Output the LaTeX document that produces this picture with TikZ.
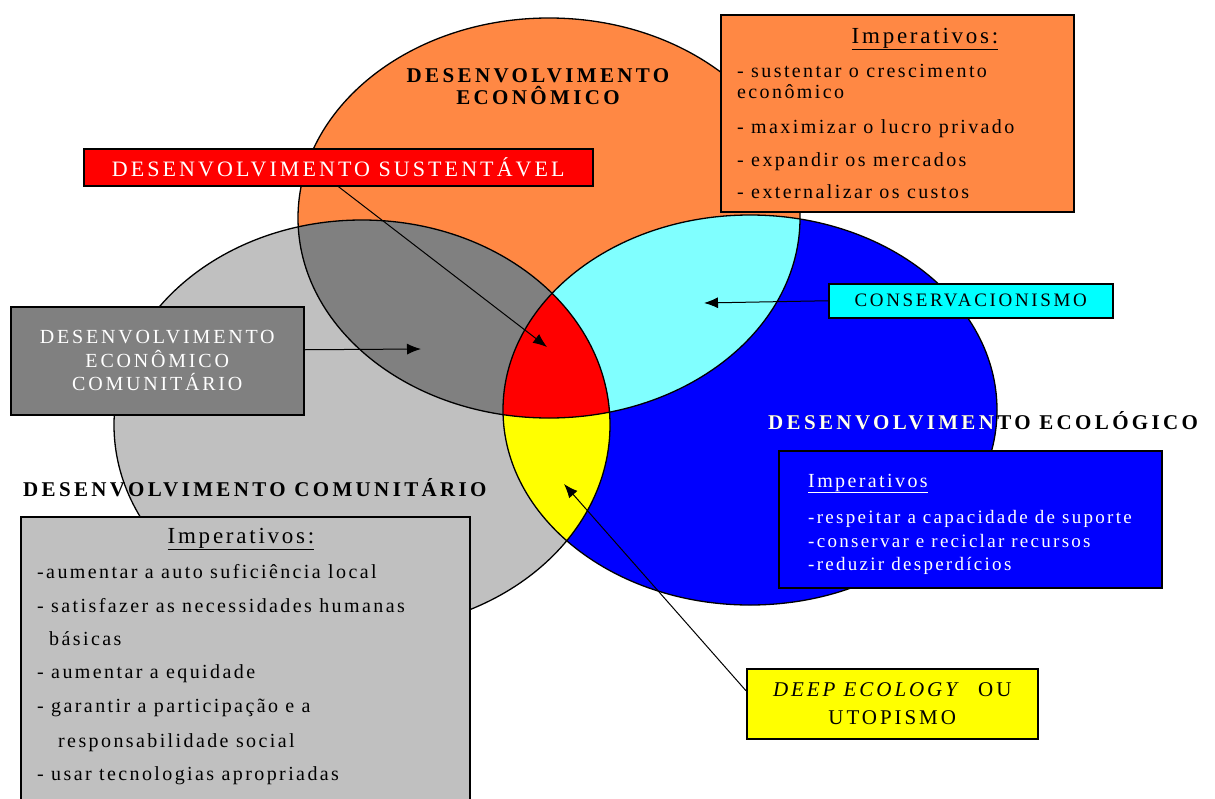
\documentclass[tikz,border=0pt]{standalone}
\usepackage{fontspec}
\setmainfont{Liberation Serif}
\newfontfamily\headfont[LetterSpace=16]{Liberation Serif}
\newfontfamily\bodyfont[LetterSpace=12]{Liberation Serif}
\newfontfamily\capsfont[LetterSpace=14]{Liberation Serif}
\usepackage{xcolor}
\usetikzlibrary{arrows.meta}

\definecolor{econ}{RGB}{255,136,68}
\definecolor{comm}{RGB}{192,192,192}
\definecolor{ecol}{RGB}{0,0,255}
\definecolor{econcomm}{RGB}{128,128,128}
\definecolor{econecol}{RGB}{128,255,255}
\definecolor{conserv}{RGB}{0,255,255}
\definecolor{sust}{RGB}{255,0,0}
\definecolor{deep}{RGB}{255,255,0}

\newcommand\pathecon{(549,218) ellipse (251 and 200)}
\newcommand\pathcomm{(362,425) ellipse (248 and 205)}
\newcommand\pathecol{(750,410) ellipse (247 and 195)}

\tikzset{
  rim/.style={line width=1.3pt},
  box/.style={draw, line width=1.5pt, anchor=north west, inner sep=0pt},
  bighead/.style={inner sep=0pt, font=\headfont\bfseries\fontsize{21}{25}\selectfont},
  boxtitle/.style={anchor=base, inner sep=0pt, font=\bodyfont\fontsize{23}{27}\selectfont},
  listline/.style={anchor=base west, inner sep=0pt, font=\bodyfont\fontsize{20}{24}\selectfont},
  pointer/.style={-{Latex[length=14pt,width=11pt]}, line width=1pt}
}

\begin{document}
\begin{tikzpicture}[x=1pt, y=-1pt]
  \useasboundingbox (0,0) rectangle (1215,798);
  \fill[econ] \pathecon;
  \fill[comm] \pathcomm;
  \fill[ecol] \pathecol;
  \begin{scope}
    \clip \pathecon;
    \fill[econcomm] \pathcomm;
    \fill[econecol] \pathecol;
  \end{scope}
  \begin{scope}
    \clip \pathcomm;
    \fill[deep] \pathecol;
    \clip \pathecon;
    \fill[sust] \pathecol;
  \end{scope}
  \draw[rim] \pathecon;
  \draw[rim] \pathcomm;
  \draw[rim] \pathecol;

  \coordinate (susttip) at (547,347);
  \coordinate (econcommtip) at (421,349);
  \coordinate (econecoltip) at (704,303);
  \coordinate (deeptip) at (564,484);

  \node[bighead, anchor=base] (econa) at (538,82) {DESENVOLVIMENTO};
  \node[bighead, anchor=base] (econb) at (538,104) {ECONÔMICO};
  \node[bighead, anchor=base west] (comma) at (23,496) {DESENVOLVIMENTO COMUNITÁRIO};
  \node[bighead, anchor=base west] (ecola) at (768,429) {DESENVOLVIMENTO ECOLÓGICO};
  \begin{scope}
    \clip \pathecol;
    \node[bighead, anchor=base west, text=white] at (768,429) {DESENVOLVIMENTO ECOLÓGICO};
  \end{scope}

  \node[box, fill=econ, minimum width=353, minimum height=197] (econbox) at (720,14) {};
  \node[boxtitle] (econtitle) at (925,43) {\underline{Imperativos:}};
  \node[listline] (econi) at (737,77) {- sustentar o crescimento};
  \node[listline] (econii) at (737,98) {econômico};
  \node[listline] (econiii) at (737,133) {- maximizar o lucro privado};
  \node[listline] (econiv) at (737,166) {- expandir os mercados};
  \node[listline] (econv) at (737,198) {- externalizar os custos};

  \node[box, fill=sust, minimum width=509, minimum height=37, text=white,
    font=\capsfont\fontsize{22}{26}\selectfont] (sustbox) at (83,148) {DESENVOLVIMENTO SUSTENTÁVEL};

  \node[box, fill=econcomm, minimum width=293, minimum height=108, text=white, align=center,
    font=\capsfont\fontsize{20}{23.5}\selectfont] (econcommbox) at (10,306) {DESENVOLVIMENTO\\ECONÔMICO\\COMUNITÁRIO};

  \node[box, fill=conserv, minimum width=284, minimum height=34,
    font=\capsfont\fontsize{19}{22}\selectfont] (conbox) at (828,283) {CONSERVACIONISMO};

  \node[box, fill=ecol, minimum width=383, minimum height=137] (ecolbox) at (778,450) {};
  \node[boxtitle, anchor=base west, text=white, font=\bodyfont\fontsize{20}{24}\selectfont] (ecoltitle) at (808,487) {\underline{Imperativos}};
  \node[listline, text=white, font=\bodyfont\fontsize{19}{22}\selectfont] (ecoli) at (808,523) {-respeitar a capacidade de suporte};
  \node[listline, text=white, font=\bodyfont\fontsize{19}{22}\selectfont] (ecolii) at (808,547) {-conservar e reciclar recursos};
  \node[listline, text=white, font=\bodyfont\fontsize{19}{22}\selectfont] (ecoliii) at (808,570) {-reduzir desperdícios};

  \node[box, fill=comm, minimum width=449, minimum height=300] (commbox) at (20,516) {};
  \node[boxtitle] (commtitle) at (241,543) {\underline{Imperativos:}};
  \node[listline] (commi) at (37,578) {-aumentar a auto suficiência local};
  \node[listline] (commii) at (37,612) {- satisfazer as necessidades humanas};
  \node[listline] (commiii) at (49,645) {básicas};
  \node[listline] (commiv) at (37,678) {- aumentar a equidade};
  \node[listline] (commv) at (37,712) {- garantir a participação e a};
  \node[listline] (commvi) at (58,747) {responsabilidade social};
  \node[listline] (commvii) at (37,780) {- usar tecnologias apropriadas};

  \node[box, fill=deep, minimum width=291, minimum height=70, align=center,
    font=\capsfont\fontsize{21}{28}\selectfont] (deepbox) at (746,668) {\textit{DEEP ECOLOGY}\ \ OU\\UTOPISMO};

  \draw[pointer] (sustbox.south) -- (susttip);
  \draw[pointer] ([yshift=11pt]econcommbox.east) -- (econcommtip);
  \draw[pointer] (conbox.west) -- (econecoltip);
  \draw[pointer] ([yshift=13pt]deepbox.west) -- (deeptip);
\end{tikzpicture}
\end{document}
